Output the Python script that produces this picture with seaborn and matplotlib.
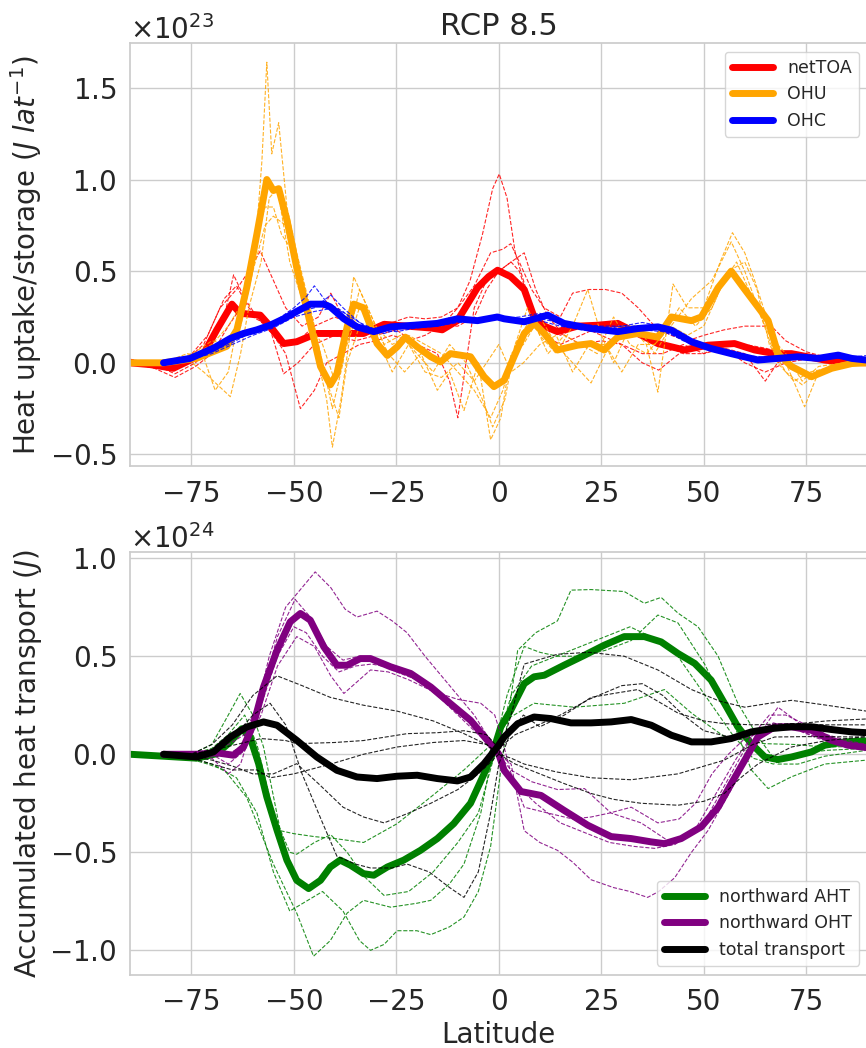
import numpy as np
import matplotlib
matplotlib.use("Agg")
import matplotlib.pyplot as plt
import seaborn as sns

# ---------------- DATA (top panel, units of 1e23 J/lat) ----------------
lat_toa = [-90,-85,-79.4,-72,-68.8,-65.1,-63.1,-58.2,-55.8,-52.5,-49.3,-44.4,-39.5,-33,-28,-22.4,-16.6,-13.8,-10.1,-5.2,-2.5,-0.3,2.9,6.2,8.6,11.1,14.3,19.2,24.1,29,33.9,38.8,45.3,51,57.5,62.4,67.3,71.4,79.5,83.6,90]
toa = [0.0,-0.01,-0.03,0.05,0.18,0.32,0.27,0.26,0.20,0.105,0.115,0.16,0.16,0.16,0.21,0.20,0.19,0.18,0.23,0.41,0.47,0.505,0.47,0.40,0.25,0.20,0.17,0.20,0.205,0.215,0.16,0.105,0.07,0.096,0.105,0.07,0.05,0.05,0.015,0.005,0.0]

lat_ohu = [-90,-81.8,-73.7,-66.4,-63.9,-61.5,-59,-56.6,-55,-53.7,-51.7,-49.3,-46,-43.5,-41.1,-39.5,-37,-35.4,-33,-29.7,-27.2,-24.8,-22.8,-19.9,-16.6,-14.2,-11.8,-6.9,-3.6,-1.2,1.3,3.7,6.2,8.6,11.1,14.3,19.2,22.5,25.7,29,33.9,38.8,42.1,47,49.4,53.5,56.7,60,63.2,65.7,68.1,71.4,76.3,81.2,86.1,90]
ohu = [0,0,0.025,0.09,0.18,0.41,0.705,1.0,0.94,0.95,0.78,0.52,0.215,-0.02,-0.12,-0.06,0.196,0.32,0.30,0.105,0.04,0.087,0.14,0.087,0.033,0.005,0.05,0.033,-0.076,-0.13,-0.095,0.033,0.16,0.215,0.16,0.07,0.096,0.105,0.07,0.14,0.16,0.14,0.25,0.23,0.25,0.41,0.5,0.4,0.305,0.23,0.05,-0.02,-0.076,-0.03,-0.004,0]

lat_ohc = [-81.8,-75.3,-69.6,-65.5,-62.3,-59,-55.8,-52.5,-49.3,-46,-42.7,-41.1,-37.8,-34.6,-30.5,-26.4,-20.7,-15,-10.1,-5.2,-0.35,1.3,6.2,11.9,15.9,22.5,29,33.9,38.8,42.1,47,51.8,56.7,63.2,68.1,73,77.9,82.8,86.1,89.7]
ohc = [0,0.024,0.08,0.133,0.16,0.18,0.205,0.24,0.28,0.32,0.32,0.305,0.24,0.196,0.17,0.196,0.205,0.215,0.24,0.23,0.25,0.24,0.224,0.26,0.215,0.187,0.17,0.187,0.196,0.178,0.115,0.078,0.05,0.015,0.024,0.033,0.024,0.042,0.024,0.015]

# individual model members (lat, value)
toa_m1 = [(-90,0.02),(-84,-0.01),(-79,-0.06),(-74,0.0),(-70,0.1),(-67,0.25),(-64.7,0.48),(-62,0.35),(-59,0.25),(-55,0.15),(-52,0.05),(-48.4,-0.25),(-45,-0.15),(-42,0.0),(-38,0.05),(-34,0.1),(-30,0.12),(-26,0.15),(-22,0.12),(-18,0.15),(-14,0.2),(-10,0.3),(-7,0.45),(-4,0.7),(-1.5,0.95),(0.1,1.03),(2,0.9),(4,0.6),(6,0.45),(8,0.3),(11,0.2),(15,0.15),(20,0.2),(25,0.15),(30,0.1),(35,0.0),(39,-0.04),(44,0.05),(50,0.1),(55,0.08),(60,0.05),(65,-0.1),(68,0.0),(72,0.05),(78,0.02),(84,0.0),(90,0.0)]
toa_m2 = [(-90,0.0),(-84,-0.02),(-78,-0.02),(-72,0.1),(-68,0.3),(-64,0.4),(-61,0.5),(-58.2,0.61),(-55,0.45),(-52,0.3),(-48,0.2),(-44,0.25),(-41,0.38),(-38,0.25),(-34,0.18),(-30,0.2),(-26,0.22),(-22,0.25),(-18,0.24),(-14,0.25),(-10,0.3),(-6,0.42),(-2,0.6),(1,0.62),(2.9,0.65),(5,0.55),(8,0.4),(11,0.3),(15,0.25),(18,0.38),(22,0.4),(26,0.4),(30,0.38),(34,0.3),(38,0.2),(42,0.15),(46,0.12),(50,0.15),(55,0.18),(60,0.2),(66.5,0.2),(70,0.12),(75,0.06),(80,0.03),(85,0.02),(90,0.02)]
toa_m3 = [(-90,0.0),(-84,-0.03),(-79,-0.08),(-74,-0.02),(-70,0.05),(-66,0.2),(-63,0.3),(-60,0.25),(-56,0.2),(-52.5,-0.06),(-49,0.0),(-45,0.1),(-40,0.15),(-35,0.12),(-30,0.15),(-25,0.18),(-20,0.1),(-15,0.05),(-12,-0.1),(-10,-0.3),(-8,0.0),(-6,0.3),(-3,0.45),(0,0.5),(3,0.55),(6.2,0.6),(9,0.4),(12,0.25),(16,0.15),(20,0.1),(25,0.12),(30,0.1),(35,0.05),(40,0.05),(45,0.1),(50,0.05),(55,0.08),(60,0.0),(65,-0.05),(70,0.0),(75,0.02),(82,0.0),(90,0.0)]
toa_m4 = [(-90,0.0),(-82,0.0),(-76,0.02),(-71,0.15),(-67,0.35),(-64,0.42),(-61,0.3),(-57,0.2),(-53,0.1),(-49,0.12),(-45,0.2),(-40,0.25),(-35,0.2),(-30,0.18),(-25,0.2),(-20,0.22),(-15,0.2),(-10,0.2),(-6,0.25),(-3,0.4),(0,0.5),(3,0.55),(5,0.5),(8,0.3),(11,0.15),(15,0.1),(20,0.15),(25,0.2),(30,0.2),(35,0.15),(40,0.1),(45,0.05),(50,0.05),(55,0.1),(60,0.1),(65,0.08),(70,0.05),(76,0.03),(83,0.0),(90,0.0)]

ohu_m1 = [(-90,0),(-82,0),(-75,0.04),(-70,0.1),(-66,0.2),(-62,0.35),(-59.5,0.6),(-57.8,1.1),(-56.6,1.64),(-55.4,1.14),(-53.7,1.31),(-51.7,0.85),(-49.3,0.6),(-46,0.3),(-43.5,0.05),(-40.6,-0.25),(-38,0.0),(-35.4,0.47),(-32,0.3),(-28,0.1),(-24,0.15),(-20,0.05),(-16,-0.05),(-12,0.1),(-8,0.0),(-4,-0.2),(-1.5,-0.35),(1.5,-0.2),(4,0.1),(7,0.3),(10,0.15),(14,0.05),(18,0.2),(21.7,0.4),(25,0.15),(28,0.0),(32,0.2),(36,0.1),(38.8,-0.16),(42.5,0.43),(46,0.3),(50,0.3),(54,0.55),(57,0.71),(60,0.6),(62.4,0.45),(66,0.2),(70,0.0),(74.6,-0.24),(78,-0.05),(82,-0.02),(86,0.0),(90,0.0)]
ohu_m2 = [(-90,0),(-82,0),(-76,0.05),(-72,0.03),(-69.2,-0.15),(-66,-0.05),(-63,0.3),(-60,0.65),(-57,0.85),(-55,0.85),(-53,0.7),(-50,0.6),(-47,0.35),(-44,0.0),(-42,-0.2),(-40.6,-0.46),(-38.5,-0.2),(-36,0.2),(-34,0.4),(-31,0.25),(-27,0.05),(-23,-0.05),(-19,0.05),(-15,-0.15),(-12,-0.05),(-8.5,-0.26),(-5,0.0),(-2,-0.42),(0.5,-0.3),(3,0.05),(6,0.1),(10,0.25),(14,0.1),(18,0.0),(22.5,-0.11),(26,0.05),(30,0.2),(34,0.2),(38,0.05),(42,0.2),(47,0.35),(52,0.45),(56.7,0.66),(60,0.5),(64,0.25),(68,0.0),(72,-0.1),(76,-0.05),(80,-0.03),(85,0.0),(90,0.0)]
ohu_m3 = [(-90,0),(-82,0),(-76,0.02),(-72,-0.05),(-65.5,-0.185),(-63,0.05),(-61,0.3),(-58,0.55),(-56,0.9),(-54,0.95),(-51,0.55),(-48,0.35),(-45,0.15),(-42,-0.1),(-39,-0.3),(-37,0.0),(-34,0.2),(-30,0.15),(-26,-0.05),(-22,0.1),(-18,-0.05),(-14,-0.08),(-10,0.0),(-6,-0.1),(-3,0.0),(0,0.1),(3,-0.05),(6,0.0),(10,0.1),(14,0.15),(18,-0.05),(22,0.1),(26,0.1),(30,-0.05),(34,0.1),(38,0.1),(42,0.2),(46,0.15),(50,0.2),(55,0.45),(58,0.55),(62,0.35),(66,0.15),(70,0.05),(74,-0.1),(78,-0.02),(84,0.0),(90,0.0)]
ohu_m4 = [(-90,0),(-80,0),(-74,0.06),(-70,0.12),(-66,0.1),(-63,0.2),(-60,0.5),(-57,0.75),(-55,0.8),(-52,0.75),(-49,0.45),(-46,0.2),(-43,0.1),(-40,-0.1),(-37,0.1),(-34,0.3),(-30,0.2),(-26,0.1),(-22,0.15),(-18,0.1),(-14,0.05),(-10,-0.05),(-6,-0.15),(-2,-0.3),(1,-0.15),(4,0.1),(8,0.25),(12,0.05),(16,0.15),(20,0.1),(24,0.05),(28,0.25),(32,0.1),(36,0.05),(40,0.15),(44,0.3),(48,0.2),(52,0.3),(56,0.5),(60,0.55),(63,0.4),(66,0.1),(70,-0.05),(74,-0.12),(78,-0.05),(84,0.0),(90,0.0)]

ohc_m1 = [(-81.8,0),(-75,0.03),(-70,0.06),(-65,0.11),(-60,0.17),(-55,0.22),(-50,0.3),(-47,0.36),(-45,0.42),(-42,0.33),(-38,0.28),(-34,0.2),(-30,0.18),(-25,0.2),(-20,0.2),(-15,0.21),(-10,0.23),(-5,0.24),(0,0.25),(5,0.23),(10,0.24),(15,0.22),(20,0.21),(25,0.2),(30,0.2),(35,0.22),(40,0.2),(45,0.15),(50,0.1),(55,0.06),(60,0.04),(65,0.03),(70,0.03),(75,0.03),(80,0.04),(85,0.03),(90,0.04)]
ohc_m2 = [(-81.8,0),(-75,0.02),(-70,0.07),(-65,0.14),(-60,0.17),(-55,0.2),(-50,0.27),(-45,0.3),(-41,0.37),(-38,0.3),(-34,0.22),(-30,0.18),(-25,0.17),(-20,0.19),(-15,0.2),(-10,0.22),(-5,0.22),(0,0.24),(5,0.25),(10,0.27),(15,0.23),(20,0.2),(25,0.18),(30,0.2),(35,0.2),(40,0.18),(45,0.12),(50,0.09),(55,0.06),(60,0.02),(65,0.02),(70,0.04),(75,0.02),(80,0.03),(85,0.02),(90,0.02)]
ohc_m3 = [(-81.8,0),(-75,0.02),(-70,0.05),(-65,0.1),(-60,0.15),(-55,0.19),(-50,0.25),(-45,0.28),(-40,0.3),(-36,0.25),(-32,0.19),(-28,0.16),(-22,0.2),(-16,0.22),(-10,0.25),(-5,0.22),(0,0.24),(5,0.22),(10,0.23),(15,0.2),(20,0.18),(25,0.17),(30,0.16),(35,0.18),(40,0.17),(45,0.13),(50,0.08),(55,0.05),(60,0.03),(65,0.03),(70,0.02),(75,0.03),(80,0.04),(85,0.02),(90,0.01)]

# ---------------- DATA (bottom panel, units of 1e24 J) ----------------
lat_aht = [-90,-81.8,-73.7,-68.8,-65.5,-62.7,-60.7,-58.6,-56.6,-54.1,-51.7,-49.3,-46.4,-43.5,-41.1,-38.7,-36.2,-33,-30.5,-27.2,-23.2,-19.1,-15,-11,-6.9,-3.6,-1.6,0.5,2.9,6.2,8.6,11.1,15.9,20.9,25.7,30.6,35.5,39.6,43.7,47.8,51.8,55.1,58.3,61.6,64.9,68.1,71.4,76.3,79.5,84.4,89.7]
aht = [0,-0.01,-0.02,0.003,0.063,0.13,0.088,-0.048,-0.218,-0.388,-0.54,-0.643,-0.685,-0.643,-0.575,-0.54,-0.566,-0.609,-0.617,-0.575,-0.54,-0.49,-0.43,-0.354,-0.25,-0.1,0,0.14,0.224,0.36,0.395,0.403,0.454,0.505,0.556,0.6,0.6,0.573,0.514,0.463,0.378,0.258,0.14,0.054,-0.014,-0.027,-0.014,0.012,0.046,0.063,0.068]

lat_oht = [-81.8,-73.7,-68.8,-64.7,-62.3,-59.8,-57.4,-54.1,-50.9,-48.4,-46,-42.7,-39.5,-37,-33.8,-31.3,-26.4,-21.5,-16.6,-11.8,-6.9,-2.8,0,1.3,5.4,10.3,15.9,21.7,27.4,32.3,37.2,40.4,44.5,49.4,53.5,56.7,60,63.2,67.3,71.4,76.3,81.2,85.2,89.7]
oht = [0,0,0.007,-0.005,0.037,0.156,0.343,0.53,0.675,0.718,0.684,0.548,0.454,0.454,0.488,0.488,0.446,0.412,0.343,0.258,0.173,0.071,0.0,-0.082,-0.19,-0.21,-0.286,-0.362,-0.42,-0.43,-0.447,-0.456,-0.43,-0.37,-0.27,-0.15,-0.03,0.088,0.14,0.14,0.122,0.071,0.046,0.034]

lat_tot = [-81.8,-73.7,-69.6,-65.5,-61.5,-57.4,-54.1,-49.3,-44.4,-39.5,-34.6,-29.7,-24.8,-19.9,-15,-10.1,-6.9,-3.6,-0.35,1.3,4.6,8.6,12.7,17.6,22.5,27.4,32.3,37.2,42.1,47,51.8,56.7,61.6,66.5,71.4,76.3,81.2,86.1,89.7]
tot = [0,-0.014,0.012,0.088,0.139,0.165,0.148,0.071,-0.014,-0.082,-0.116,-0.124,-0.112,-0.107,-0.124,-0.136,-0.116,-0.048,0.037,0.088,0.156,0.19,0.182,0.16,0.16,0.165,0.177,0.148,0.097,0.063,0.063,0.08,0.114,0.131,0.14,0.14,0.126,0.114,0.11]

aht_m1 = [(-81.8,0),(-76,-0.02),(-71,-0.05),(-67,-0.08),(-61.5,-0.22),(-55,-0.56),(-49.3,-0.81),(-45.2,-1.03),(-41.1,-0.95),(-37,-0.81),(-33,-0.745),(-26.4,-0.78),(-20,-0.76),(-16.6,-0.745),(-12,-0.66),(-8.5,-0.56),(-4.4,-0.3),(-1.6,0.0),(2,0.3),(6.2,0.55),(10,0.52),(14.3,0.5),(20,0.5),(26,0.53),(32.3,0.58),(38.8,0.71),(43.7,0.67),(50.2,0.46),(56.7,0.19),(61.6,-0.08),(65.7,-0.175),(71.4,-0.115),(79.5,-0.05),(89.7,-0.03)]
aht_m2 = [(-81.8,0),(-75,0.0),(-70,0.05),(-66,0.2),(-63.1,0.31),(-60,0.2),(-57.4,0.037),(-53.3,-0.39),(-50,-0.405),(-45,-0.42),(-40,-0.43),(-33,-0.45),(-24.8,-0.354),(-16.6,-0.218),(-8.5,-0.08),(-1.6,0.054),(2.9,0.19),(8.6,0.26),(18.4,0.24),(30.6,0.26),(40.4,0.33),(47,0.21),(55,0.09),(64.9,0.054),(72,0.05),(79.5,0.037),(89.7,0.04)]
aht_m3 = [(-81.8,0),(-75,-0.02),(-70,-0.05),(-64,-0.12),(-59,-0.3),(-55,-0.6),(-51,-0.8),(-47,-0.75),(-43,-0.7),(-38,-0.8),(-34,-0.95),(-31.3,-1.0),(-28,-0.97),(-24.8,-0.9),(-20,-0.9),(-16.6,-0.92),(-12,-0.88),(-8.5,-0.83),(-5,-0.7),(-2,-0.47),(1,0.0),(4.6,0.53),(9,0.62),(14.3,0.68),(17.6,0.837),(22.5,0.84),(30.6,0.83),(35.5,0.77),(39.6,0.8),(43.7,0.72),(48.6,0.65),(53.5,0.5),(58.3,0.26),(63.2,0.09),(68.1,-0.05),(73,-0.05),(79.5,-0.01),(89.7,0.02)]
aht_m4 = [(-81.8,0),(-75,0.0),(-70,0.03),(-66,0.1),(-62,0.2),(-59,0.05),(-55,-0.3),(-51,-0.5),(-49.3,-0.51),(-45,-0.45),(-41,-0.41),(-37,-0.5),(-33,-0.62),(-28,-0.72),(-22,-0.7),(-16,-0.6),(-10,-0.45),(-5,-0.3),(-1,0.0),(3,0.3),(8,0.45),(14,0.5),(20,0.55),(26,0.6),(32,0.65),(37,0.6),(42,0.55),(47,0.4),(52,0.25),(57,0.1),(62,-0.02),(67,-0.05),(72,0.0),(80,0.02),(89.7,0.03)]

oht_m1 = [(-81.8,0),(-75,0.0),(-70,-0.02),(-66,-0.1),(-63,-0.05),(-60,0.15),(-56,0.5),(-52,0.75),(-48,0.85),(-44.8,0.93),(-41,0.85),(-37.5,0.74),(-34.6,0.7),(-29.7,0.73),(-26,0.68),(-22.4,0.62),(-18,0.5),(-14,0.4),(-10,0.3),(-6,0.2),(-3,0.1),(0,0.0),(3,-0.05),(6.2,-0.39),(10,-0.45),(14.3,-0.49),(18,-0.55),(22.5,-0.64),(28,-0.68),(32,-0.7),(36.3,-0.73),(39,-0.7),(42.9,-0.63),(47,-0.5),(51,-0.39),(56.7,-0.18),(63.2,0.09),(68.1,0.24),(72,0.18),(75.5,0.12),(80,0.08),(85,0.05),(89.7,0.04)]
oht_m2 = [(-81.8,0),(-75,0.0),(-70,0.02),(-66,0.05),(-62,0.1),(-58,0.3),(-54,0.6),(-49.7,0.79),(-46,0.7),(-42,0.55),(-38,0.48),(-34,0.5),(-30,0.47),(-25,0.42),(-20,0.38),(-15,0.3),(-10,0.2),(-5,0.1),(-2,0.05),(0,0.0),(2.9,-0.08),(8,-0.14),(14.3,-0.18),(20.9,-0.175),(27.4,-0.3),(34.7,-0.35),(41.2,-0.44),(46,-0.42),(50,-0.35),(54,-0.2),(58,-0.05),(62,0.1),(66,0.2),(70,0.2),(75,0.15),(80,0.1),(85,0.07),(89.7,0.05)]
oht_m3 = [(-81.8,0),(-75,0.0),(-70,0.0),(-66,-0.05),(-62,0.02),(-58,0.2),(-54,0.45),(-49.3,0.6),(-45,0.55),(-41,0.4),(-37.8,0.31),(-34,0.38),(-31.3,0.43),(-27,0.42),(-22,0.38),(-16,0.32),(-10,0.28),(-4.4,0.26),(-1,0.2),(0.5,0.1),(3,-0.1),(6.2,-0.27),(12,-0.3),(18,-0.33),(22.5,-0.32),(27,-0.3),(32.3,-0.27),(38.8,-0.35),(44,-0.33),(48,-0.25),(52,-0.1),(56,0.0),(60,0.08),(65,0.12),(70,0.15),(76,0.1),(82,0.06),(89.7,0.03)]
oht_m4 = [(-81.8,0),(-75,0.01),(-70,0.02),(-66,0.0),(-62,0.05),(-58,0.25),(-54,0.5),(-50,0.65),(-47,0.62),(-43,0.5),(-39,0.42),(-35,0.45),(-31,0.46),(-26,0.44),(-20,0.38),(-14,0.3),(-8,0.2),(-3,0.08),(0,-0.02),(4,-0.15),(9,-0.25),(15,-0.35),(21,-0.4),(27,-0.45),(33,-0.47),(38,-0.48),(43,-0.46),(48,-0.38),(53,-0.2),(58,-0.02),(62,0.1),(67,0.16),(72,0.13),(78,0.08),(84,0.05),(89.7,0.02)]

tot_m1 = [(-81.8,0),(-75,0.0),(-70,0.05),(-65,0.15),(-60,0.3),(-54.1,0.4),(-48,0.35),(-41.1,0.29),(-33,0.25),(-24.8,0.22),(-16,0.17),(-8.5,0.105),(-3,0.05),(0,0.0),(3,0.2),(6.2,0.46),(14.3,0.51),(22,0.52),(30.6,0.5),(38.8,0.43),(47,0.33),(54,0.27),(60,0.24),(66,0.26),(71.4,0.275),(80,0.25),(89.7,0.22)]
tot_m2 = [(-81.8,0),(-75,0.0),(-70,0.02),(-65,0.08),(-60,0.2),(-55.8,0.26),(-52,0.15),(-48,-0.1),(-43,-0.35),(-39.5,-0.52),(-35,-0.56),(-31.3,-0.58),(-26,-0.58),(-22.4,-0.56),(-17,-0.6),(-12,-0.68),(-8.5,-0.73),(-5,-0.6),(-2,-0.3),(0,-0.05),(3,0.12),(6,0.2),(10,0.14),(16,0.2),(22.5,0.29),(28,0.31),(33.9,0.33),(38,0.28),(43.7,0.21),(50,0.17),(55,0.156),(62,0.15),(71.4,0.156),(80,0.15),(89.7,0.15)]
tot_m3 = [(-81.8,0),(-75,-0.01),(-70,-0.03),(-65,-0.06),(-60,-0.1),(-55,-0.1),(-49.3,-0.048),(-44,-0.15),(-38,-0.27),(-33,-0.32),(-28,-0.35),(-22,-0.3),(-16.6,-0.25),(-10,-0.18),(-5,-0.1),(0,0.0),(3,-0.02),(6.2,-0.05),(14,-0.09),(22.5,-0.12),(32.3,-0.13),(43.7,-0.1),(55,-0.03),(62,0.05),(67.3,0.088),(75,0.09),(89.7,0.088)]
tot_m4 = [(-81.8,0),(-75,-0.02),(-70,-0.05),(-65,-0.08),(-59,-0.08),(-55.8,-0.12),(-50,-0.1),(-41,-0.05),(-33,0.0),(-24.8,0.037),(-16,0.06),(-8.5,0.07),(-3,0.05),(0,0.0),(4,-0.05),(10,-0.1),(16,-0.15),(22.5,-0.2),(28,-0.23),(34.7,-0.25),(43.7,-0.26),(50,-0.24),(55,-0.2),(59,-0.12),(63.2,-0.05),(71.4,0.037),(80,0.07),(89.7,0.09)]
tot_m5 = [(-81.8,0),(-75,0.0),(-70,0.02),(-64,0.05),(-58,0.08),(-52,0.07),(-49.3,0.054),(-40,0.06),(-33,0.07),(-22.4,0.105),(-15,0.11),(-8.5,0.12),(-3,0.1),(0,0.03),(4,0.1),(8.6,0.14),(15,0.2),(22,0.28),(30,0.35),(35,0.36),(40,0.3),(45,0.2),(50,0.12),(56,0.09),(62,0.12),(70,0.15),(80,0.17),(89.7,0.18)]

xticks = [-75, -50, -25, 0, 25, 50, 75]

# ---------------- PLOT ----------------
sns.set_theme(style="whitegrid")
plt.rcParams['font.family'] = ['DejaVu Sans']
plt.rcParams['axes.unicode_minus'] = True

fig = plt.figure(figsize=(8.66, 10.48), dpi=100)
ax1 = fig.add_axes([0.150, 0.555, 0.852, 0.404])
ax2 = fig.add_axes([0.150, 0.070, 0.852, 0.403])

TH = 5.0
TN = 0.8
FS = 20

def thin(ax, member, color, scale):
    x = [p[0] for p in member]
    y = [p[1] * scale for p in member]
    sns.lineplot(x=x, y=y, ax=ax, color=color, linewidth=TN, linestyle='--',
                 sort=False, estimator=None, alpha=0.85)

def thick(ax, x, y, color, scale, label):
    sns.lineplot(x=x, y=np.array(y) * scale, ax=ax, color=color, linewidth=TH,
                 sort=False, estimator=None, label=label)

s1 = 1e23
for m in (toa_m1, toa_m2, toa_m3, toa_m4):
    thin(ax1, m, 'red', s1)
thick(ax1, lat_toa, toa, 'red', s1, 'netTOA')
for m in (ohu_m1, ohu_m2, ohu_m3, ohu_m4):
    thin(ax1, m, 'orange', s1)
thick(ax1, lat_ohu, ohu, 'orange', s1, 'OHU')
for m in (ohc_m1, ohc_m2, ohc_m3):
    thin(ax1, m, 'blue', s1)
thick(ax1, lat_ohc, ohc, 'blue', s1, 'OHC')

s2 = 1e24
for m in (aht_m1, aht_m2, aht_m3, aht_m4):
    thin(ax2, m, 'green', s2)
thick(ax2, lat_aht, aht, 'green', s2, 'northward AHT')
for m in (oht_m1, oht_m2, oht_m3, oht_m4):
    thin(ax2, m, 'purple', s2)
thick(ax2, lat_oht, oht, 'purple', s2, 'northward OHT')
for m in (tot_m1, tot_m2, tot_m3, tot_m4, tot_m5):
    thin(ax2, m, 'black', s2)
thick(ax2, lat_tot, tot, 'black', s2, 'total transport')

for ax in (ax1, ax2):
    ax.set_xlim(-90, 90)
    ax.set_xticks(xticks)
    ax.tick_params(labelsize=FS)
    ax.ticklabel_format(axis='y', style='sci', scilimits=(0, 0), useMathText=True)
    ax.yaxis.get_offset_text().set_fontsize(FS)

ax1.set_ylim(-0.565e23, 1.745e23)
ax1.set_yticks([-0.5e23, 0, 0.5e23, 1.0e23, 1.5e23])
ax2.set_ylim(-1.124e24, 1.03e24)
ax2.set_yticks([-1.0e24, -0.5e24, 0, 0.5e24, 1.0e24])

ax1.set_title('RCP 8.5', fontsize=22)
ax1.set_xlabel('')
ax1.set_ylabel(r'Heat uptake/storage ($J\ lat^{-1}$)', fontsize=FS)
ax2.set_ylabel(r'Accumulated heat transport ($J$)', fontsize=FS)
ax2.set_xlabel('Latitude', fontsize=FS)

ax1.legend(loc='upper right', fontsize=12.5, frameon=True, handlelength=2.4)
ax2.legend(loc='lower right', fontsize=12.5, frameon=True, handlelength=2.4)

fig.savefig('out.png', dpi=100)
